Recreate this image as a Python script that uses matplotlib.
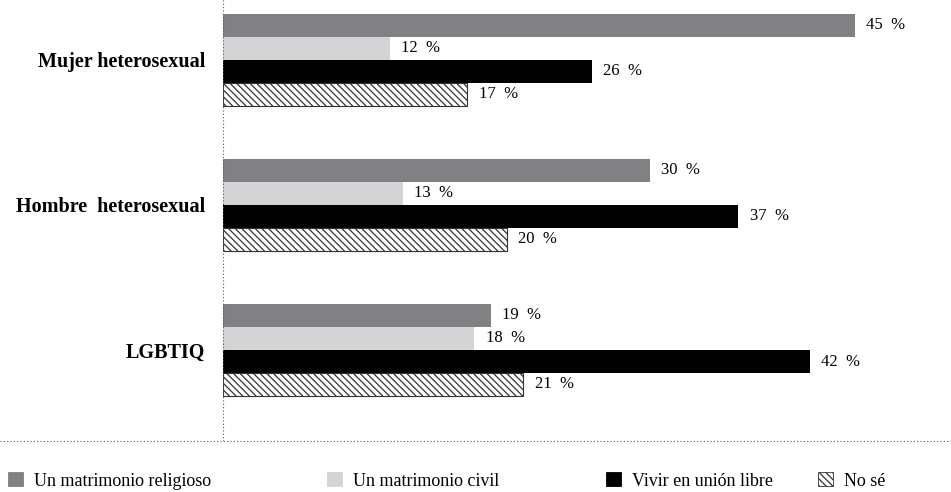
import matplotlib
matplotlib.use('Agg')
import matplotlib.pyplot as plt
from matplotlib.patches import Patch
from matplotlib.lines import Line2D
import numpy as np

plt.rcParams['font.family'] = ['Liberation Serif', 'DejaVu Serif']
plt.rcParams['hatch.linewidth'] = 0.9

# data (bar lengths, labels show rounded %)
categories = ['Mujer heterosexual', 'Hombre  heterosexual', 'LGBTIQ']
series = ['Un matrimonio religioso', 'Un matrimonio civil', 'Vivir en unión libre', 'No sé']
religioso = [45.0, 30.4, 19.1]
civil = [11.9, 12.8, 17.9]
union_libre = [26.3, 36.7, 41.8]
no_se = [17.4, 20.2, 21.4]

values = [religioso, civil, union_libre, no_se]
colors = ['#818184', '#d4d4d6', '#000000', 'white']
hatches = [None, None, None, '\\\\\\\\\\']
edges = ['none', 'none', 'none', '#333333']

W, H = 951, 492
fig = plt.figure(figsize=(W / 100, H / 100), dpi=100)
# axes from x=223px to right edge, y from 0 to 441px
ax = fig.add_axes([223 / W, 1 - 441 / H, 1 - 223 / W, 441 / H])

bar_h = 23 / 145
y = np.arange(len(categories))
for i, (vals, c, h, e) in enumerate(zip(values, colors, hatches, edges)):
    pos = y - 1.5 * bar_h + i * bar_h
    ax.barh(pos, vals, height=bar_h, color=c, hatch=h, edgecolor=e,
            linewidth=0.8 if e != 'none' else 0)
    for p, v in zip(pos, vals):
        ax.text(v + 0.8, p, f'{round(v)}\u2002%', va='center', ha='left', fontsize=12)

ax.set_xlim(0, (W - 223) / 14.04)
ax.set_ylim((441 - 60) / 145, -60 / 145)
for s in ax.spines.values():
    s.set_visible(False)
ax.axvline(0, color='#555555', linestyle=(0, (1, 2)), linewidth=0.8)
ax.set_xticks([])
ax.set_yticks(y)
ax.set_yticklabels(categories, fontsize=14.5, fontweight='bold')
ax.tick_params(axis='y', length=0, pad=13)

# horizontal dotted separator
fig.add_artist(Line2D([0, 1], [1 - 441 / H, 1 - 441 / H], transform=fig.transFigure,
                      color='#555555', linestyle=(0, (1, 2)), linewidth=0.8))

# legend items placed individually
leg_x = [3, 322, 601, 813]
for name, c, h, e, lx in zip(series, colors, hatches, edges, leg_x):
    handle = Patch(facecolor=c, hatch=h, edgecolor=e if e != 'none' else c, linewidth=0.6)
    fig.legend([handle], [name], loc='center left', bbox_to_anchor=(lx / W, 1 - 481 / H),
               frameon=False, fontsize=13, handlelength=0.8, handleheight=0.8,
               handletextpad=0.6, borderaxespad=0, borderpad=0.3)

fig.savefig('out.png', dpi=100)
